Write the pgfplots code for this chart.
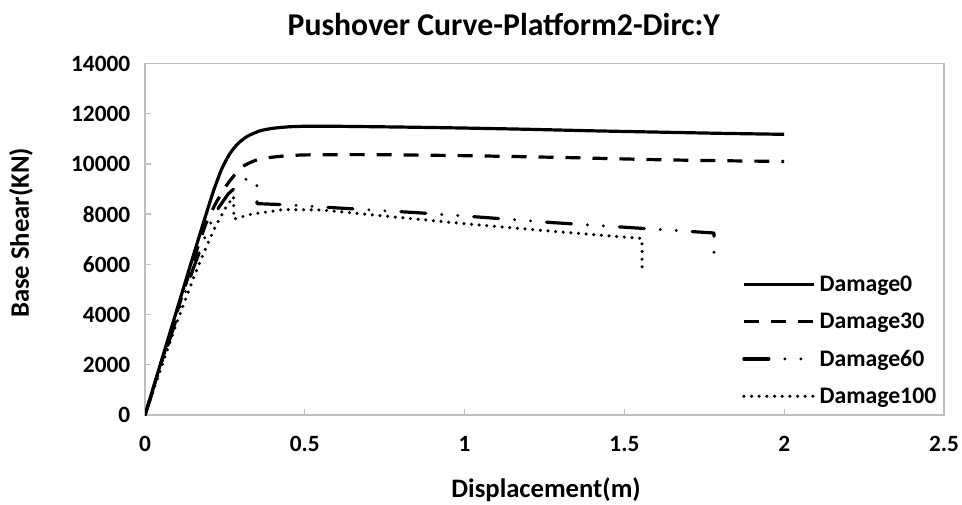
\documentclass[border=0pt]{standalone}
\usepackage{fontspec}
\setmainfont{Carlito}
\usepackage{pgfplots}
\pgfplotsset{compat=1.18}
\definecolor{axgray}{RGB}{191,191,191}
% 1 px of the reference = 0.75pt
\newcommand{\fT}{\fontsize{23.8}{28}\selectfont\bfseries}
\newcommand{\fL}{\fontsize{20}{24}\selectfont\bfseries}
\newcommand{\fK}{\fontsize{17.5}{21}\selectfont\bfseries}
\newcommand{\fG}{\fontsize{17.8}{21}\selectfont\bfseries}

\begin{document}
\begin{tikzpicture}
\useasboundingbox (0,0) rectangle (721.5pt,378pt);
\begin{axis}[
  at={(108.75pt,66.75pt)}, anchor=south west,
  width=599.25pt, height=263.6pt, scale only axis,
  xmin=0, xmax=2.5, ymin=0, ymax=14000,
  xtick={0,0.5,1,1.5,2,2.5}, ytick={0,2000,4000,6000,8000,10000,12000,14000},
  scaled y ticks=false,
  axis line style={axgray,line width=1pt},
  tick style={axgray,line width=1pt},
  major tick length=4.5pt, tick align=inside,
  xtick pos=left, ytick pos=left,
  /pgf/number format/1000 sep={},
  /pgf/number format/assume math mode=true,
  tick label style={font=\fK},
  xticklabel style={yshift=-12.5pt},
  yticklabel style={xshift=-7.5pt},
  title={Pushover Curve-Platform2-Dirc:Y},
  title style={font=\fT,at={(axis description cs:0.449,1.087)},anchor=center},
  xlabel={Displacement(m)},
  xlabel style={font=\fL,at={(axis description cs:0.502,-0.2134)},anchor=center},
  ylabel={Base Shear(KN)},
  ylabel style={font=\fL,at={(axis description cs:-0.1552,0.518)},anchor=center},
  legend image code/.code={\draw[#1] (0pt,0pt) -- (52.5pt,0pt);},
  legend cell align=left,
  legend style={at={(axis description cs:0.747,0.397)},anchor=north west,
    draw=none,fill=none,font=\fG,row sep=14.6pt,inner sep=0pt,
    nodes={inner ysep=0pt,inner xsep=3pt}},
  every axis plot/.append style={black,line width=2.4pt,line join=round},
]
% Damage0
\addplot[solid,smooth,tension=0.4] coordinates {
 (0,0) (0.05,2100) (0.1,4200) (0.15,6300) (0.19,7950) (0.215,8950)
 (0.24,9800) (0.265,10400) (0.29,10800) (0.32,11100) (0.36,11320)
 (0.4,11420) (0.45,11480) (0.5,11500) (0.6,11500) (0.8,11470)
 (1.0,11430) (1.2,11380) (1.4,11320) (1.6,11270) (1.8,11220) (2.0,11180)};
\addlegendentry{Damage0}
% Damage30
\addplot[line cap=butt,dash pattern=on 11.25pt off 9pt,smooth,tension=0.4] coordinates {
 (0,0) (0.05,2050) (0.1,4100) (0.15,6100) (0.19,7600) (0.22,8400)
 (0.25,9050) (0.27,9400) (0.3,9850) (0.33,10060) (0.36,10200)
 (0.42,10300) (0.5,10360) (0.7,10370) (1.0,10330) (1.3,10260)
 (1.6,10170) (1.8,10130) (2.0,10100)};
\addlegendentry{Damage30}
% Damage60
\addplot[line cap=round,dash pattern=on 18.75pt off 12pt on 0pt off 12pt on 0pt off 12pt] coordinates {
 (0,0) (0.05,1950) (0.1,3900) (0.15,5800) (0.2,7500) (0.23,8250)
 (0.26,8800) (0.29,9150) (0.32,9430) (0.35,9300) (0.3505,8420)
 (0.45,8370) (0.6,8250) (0.85,8060) (1.05,7880) (1.28,7660)
 (1.5,7480) (1.78,7250) (1.7805,6100)};
\addlegendentry{Damage60}
% Damage100
\addplot[line cap=round,line width=2.6pt,dash pattern=on 0pt off 5.75pt] coordinates {
 (0,0) (0.05,1850) (0.1,3700) (0.15,5400) (0.19,6650) (0.22,7500)
 (0.25,8200) (0.277,8700) (0.278,7800) (0.33,7990) (0.43,8180)
 (0.55,8170) (1.0,7620) (1.3,7290) (1.555,7030) (1.5555,5880)};
\addlegendentry{Damage100}
\end{axis}
\end{tikzpicture}
\end{document}
